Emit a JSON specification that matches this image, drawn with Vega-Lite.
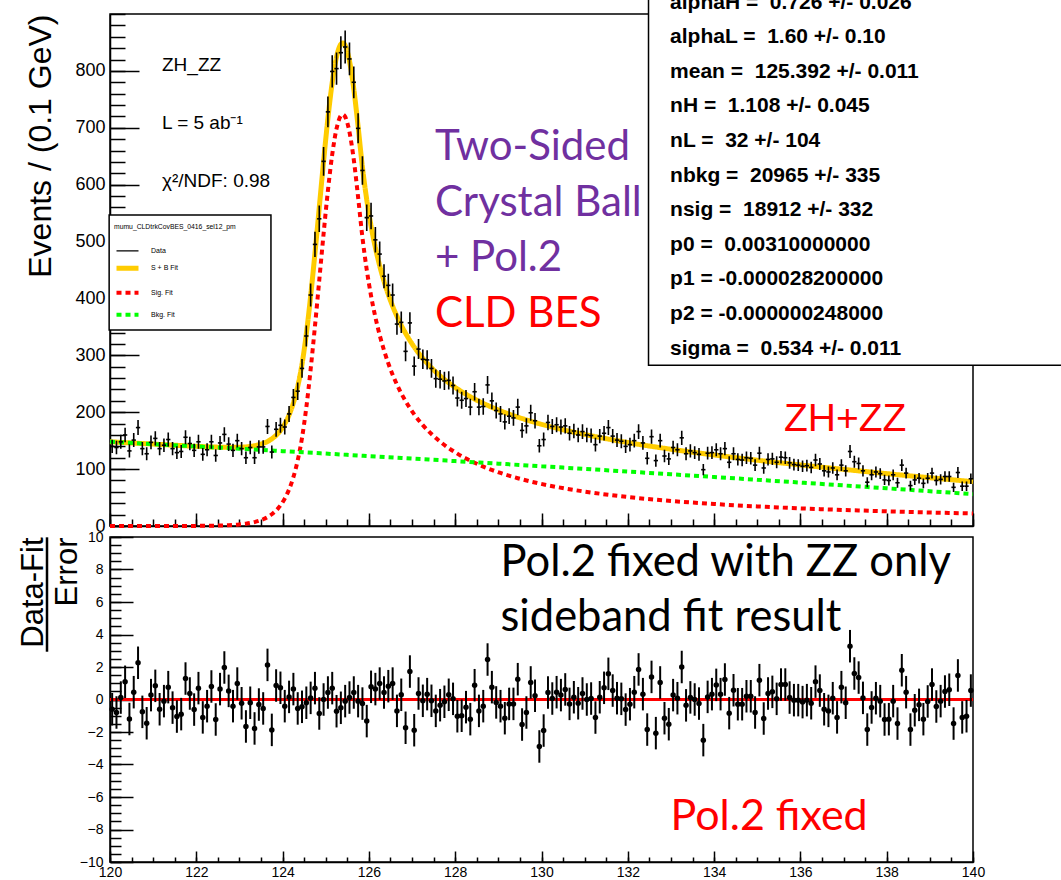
{
  "$schema": "https://vega.github.io/schema/vega-lite/v6.json",
  "autosize": {"type": "none"},
  "padding": {"left": 110, "top": 14, "right": 951, "bottom": 866},
  "background": "white",
  "bounds": "flush",
  "spacing": 11,
  "datasets": {
    "bins": [
      {"m":120.05,"n":140,"e":11.8,"pull":-0.6},{"m":120.15,"n":138,"e":11.7,"pull":-0.8},{"m":120.25,"n":148,"e":12.2,"pull":0.12},{"m":120.35,"n":160,"e":12.6,"pull":1.09},{"m":120.45,"n":132,"e":11.5,"pull":-1.2},
      {"m":120.55,"n":151,"e":12.3,"pull":0.45},{"m":120.65,"n":173,"e":13.2,"pull":2.26},{"m":120.75,"n":136,"e":11.7,"pull":-0.76},{"m":120.85,"n":127,"e":11.3,"pull":-1.46},{"m":120.95,"n":147,"e":12.1,"pull":0.27},
      {"m":121.05,"n":154,"e":12.4,"pull":0.84},{"m":121.15,"n":136,"e":11.7,"pull":-0.6},{"m":121.25,"n":142,"e":11.9,"pull":-0.1},{"m":121.35,"n":152,"e":12.3,"pull":0.76},{"m":121.45,"n":136,"e":11.7,"pull":-0.5},
      {"m":121.55,"n":129,"e":11.4,"pull":-1.05},{"m":121.65,"n":131,"e":11.4,"pull":-0.9},{"m":121.75,"n":156,"e":12.5,"pull":1.29},{"m":121.85,"n":145,"e":12.0,"pull":0.37},{"m":121.95,"n":133,"e":11.5,"pull":-0.62},
      {"m":122.05,"n":148,"e":12.2,"pull":0.7},{"m":122.15,"n":126,"e":11.2,"pull":-1.1},{"m":122.25,"n":134,"e":11.6,"pull":-0.41},{"m":122.35,"n":148,"e":12.2,"pull":0.8},{"m":122.45,"n":124,"e":11.1,"pull":-1.23},
      {"m":122.55,"n":146,"e":12.1,"pull":0.64},{"m":122.65,"n":161,"e":12.7,"pull":1.97},{"m":122.75,"n":144,"e":12.0,"pull":0.53},{"m":122.85,"n":133,"e":11.5,"pull":-0.41},{"m":122.95,"n":150,"e":12.2,"pull":0.98},
      {"m":123.05,"n":136,"e":11.7,"pull":-0.23},{"m":123.15,"n":120,"e":11.0,"pull":-1.66},{"m":123.25,"n":138,"e":11.7,"pull":-0.2},{"m":123.35,"n":120,"e":11.0,"pull":-1.78},{"m":123.45,"n":139,"e":11.8,"pull":-0.31},
      {"m":123.55,"n":139,"e":11.8,"pull":-0.55},{"m":123.65,"n":175,"e":13.2,"pull":2.13},{"m":123.75,"n":130,"e":11.4,"pull":-1.87},{"m":123.85,"n":170,"e":13.0,"pull":0.86},{"m":123.95,"n":177,"e":13.3,"pull":0.72},
      {"m":124.05,"n":174,"e":13.2,"pull":-0.41},{"m":124.15,"n":197,"e":14.0,"pull":0.16},{"m":124.25,"n":226,"e":15.0,"pull":0.64},{"m":124.35,"n":237,"e":15.4,"pull":-0.55},{"m":124.45,"n":277,"e":16.6,"pull":-0.45},
      {"m":124.55,"n":334,"e":18.3,"pull":-0.2},{"m":124.65,"n":406,"e":20.1,"pull":0.1},{"m":124.75,"n":495,"e":22.2,"pull":0.7},{"m":124.85,"n":540,"e":23.2,"pull":-0.86},{"m":124.95,"n":641,"e":25.3,"pull":0.0},
      {"m":125.05,"n":728,"e":27.0,"pull":0.43},{"m":125.15,"n":799,"e":28.3,"pull":0.7},{"m":125.25,"n":804,"e":28.4,"pull":-0.72},{"m":125.35,"n":832,"e":28.8,"pull":-0.51},{"m":125.45,"n":842,"e":29.0,"pull":-0.1},
      {"m":125.55,"n":821,"e":28.7,"pull":0.12},{"m":125.65,"n":780,"e":27.9,"pull":0.43},{"m":125.75,"n":699,"e":26.4,"pull":-0.1},{"m":125.85,"n":625,"e":25.0,"pull":-0.25},{"m":125.95,"n":542,"e":23.3,"pull":-1.33},
      {"m":126.05,"n":545,"e":23.3,"pull":0.78},{"m":126.15,"n":503,"e":22.4,"pull":0.64},{"m":126.25,"n":478,"e":21.9,"pull":0.98},{"m":126.35,"n":439,"e":21.0,"pull":0.43},{"m":126.45,"n":423,"e":20.6,"pull":0.82},
      {"m":126.55,"n":406,"e":20.1,"pull":0.98},{"m":126.65,"n":355,"e":18.8,"pull":-0.7},{"m":126.75,"n":358,"e":18.9,"pull":0.29},{"m":126.85,"n":307,"e":17.5,"pull":-1.74},{"m":126.95,"n":357,"e":18.9,"pull":1.72},
      {"m":127.05,"n":281,"e":16.8,"pull":-1.89},{"m":127.15,"n":311,"e":17.6,"pull":0.37},{"m":127.25,"n":293,"e":17.1,"pull":-0.08},{"m":127.35,"n":292,"e":17.1,"pull":0.33},{"m":127.45,"n":277,"e":16.6,"pull":-0.08},
      {"m":127.55,"n":259,"e":16.1,"pull":-0.7},{"m":127.65,"n":258,"e":16.1,"pull":-0.35},{"m":127.75,"n":255,"e":16.0,"pull":-0.14},{"m":127.85,"n":256,"e":16.0,"pull":0.29},{"m":127.95,"n":247,"e":15.7,"pull":0.04},
      {"m":128.05,"n":225,"e":15.0,"pull":-1.03},{"m":128.15,"n":221,"e":14.9,"pull":-1.0},{"m":128.25,"n":224,"e":15.0,"pull":-0.47},{"m":128.35,"n":209,"e":14.5,"pull":-1.21},{"m":128.45,"n":236,"e":15.4,"pull":0.88},
      {"m":128.55,"n":209,"e":14.5,"pull":-0.7},{"m":128.65,"n":210,"e":14.5,"pull":-0.41},{"m":128.75,"n":248,"e":15.7,"pull":2.46},{"m":128.85,"n":220,"e":14.8,"pull":0.76},{"m":128.95,"n":203,"e":14.2,"pull":-0.18},
      {"m":129.05,"n":197,"e":14.0,"pull":-0.41},{"m":129.15,"n":183,"e":13.5,"pull":-1.15},{"m":129.25,"n":193,"e":13.9,"pull":-0.27},{"m":129.35,"n":190,"e":13.8,"pull":-0.27},{"m":129.45,"n":209,"e":14.5,"pull":1.25},
      {"m":129.55,"n":168,"e":13.0,"pull":-1.54},{"m":129.65,"n":176,"e":13.3,"pull":-0.8},{"m":129.75,"n":199,"e":14.1,"pull":1.05},{"m":129.85,"n":185,"e":13.6,"pull":0.23},{"m":129.95,"n":141,"e":11.9,"pull":-2.89},
      {"m":130.05,"n":152,"e":12.3,"pull":-1.91},{"m":130.15,"n":182,"e":13.5,"pull":0.43},{"m":130.25,"n":175,"e":13.2,"pull":0.06},{"m":130.35,"n":178,"e":13.3,"pull":0.45},{"m":130.45,"n":174,"e":13.2,"pull":0.27},
      {"m":130.55,"n":176,"e":13.3,"pull":0.62},{"m":130.65,"n":163,"e":12.8,"pull":-0.27},{"m":130.75,"n":167,"e":12.9,"pull":0.14},{"m":130.85,"n":160,"e":12.6,"pull":-0.23},{"m":130.95,"n":166,"e":12.9,"pull":0.37},
      {"m":131.05,"n":160,"e":12.6,"pull":0.0},{"m":131.15,"n":159,"e":12.6,"pull":0.06},{"m":131.25,"n":143,"e":12.0,"pull":-1.11},{"m":131.35,"n":158,"e":12.6,"pull":0.14},{"m":131.45,"n":163,"e":12.8,"pull":0.72},
      {"m":131.55,"n":173,"e":13.2,"pull":1.58},{"m":131.65,"n":158,"e":12.6,"pull":0.55},{"m":131.75,"n":151,"e":12.3,"pull":0.08},{"m":131.85,"n":149,"e":12.2,"pull":0.04},{"m":131.95,"n":140,"e":11.8,"pull":-0.62},
      {"m":132.05,"n":143,"e":12.0,"pull":-0.29},{"m":132.15,"n":150,"e":12.2,"pull":0.45},{"m":132.25,"n":166,"e":12.9,"pull":1.85},{"m":132.35,"n":146,"e":12.1,"pull":0.33},{"m":132.45,"n":119,"e":10.9,"pull":-1.85},
      {"m":132.55,"n":157,"e":12.5,"pull":1.39},{"m":132.65,"n":115,"e":10.7,"pull":-2.07},{"m":132.75,"n":150,"e":12.2,"pull":1.05},{"m":132.85,"n":123,"e":11.1,"pull":-1.15},{"m":132.95,"n":118,"e":10.9,"pull":-1.52},
      {"m":133.05,"n":138,"e":11.7,"pull":0.27},{"m":133.15,"n":134,"e":11.6,"pull":0.08},{"m":133.25,"n":155,"e":12.4,"pull":2.0},{"m":133.35,"n":127,"e":11.3,"pull":-0.36},{"m":133.45,"n":132,"e":11.5,"pull":0.13},
      {"m":133.55,"n":129,"e":11.4,"pull":0.0},{"m":133.65,"n":126,"e":11.2,"pull":-0.25},{"m":133.75,"n":99,"e":9.9,"pull":-2.5},{"m":133.85,"n":128,"e":11.3,"pull":0.16},{"m":133.95,"n":129,"e":11.4,"pull":0.33},
      {"m":134.05,"n":134,"e":11.6,"pull":0.9},{"m":134.15,"n":127,"e":11.3,"pull":0.33},{"m":134.25,"n":136,"e":11.7,"pull":1.23},{"m":134.35,"n":112,"e":10.6,"pull":-0.84},{"m":134.45,"n":127,"e":11.3,"pull":0.57},
      {"m":134.55,"n":117,"e":10.8,"pull":-0.29},{"m":134.65,"n":116,"e":10.8,"pull":-0.29},{"m":134.75,"n":120,"e":11.0,"pull":0.2},{"m":134.85,"n":119,"e":10.9,"pull":0.2},{"m":134.95,"n":107,"e":10.3,"pull":-0.8},
      {"m":135.05,"n":128,"e":11.3,"pull":1.19},{"m":135.15,"n":102,"e":10.1,"pull":-1.17},{"m":135.25,"n":117,"e":10.8,"pull":0.37},{"m":135.35,"n":118,"e":10.9,"pull":0.47},{"m":135.45,"n":112,"e":10.6,"pull":0.04},
      {"m":135.55,"n":121,"e":11.0,"pull":0.92},{"m":135.65,"n":120,"e":11.0,"pull":0.92},{"m":135.75,"n":111,"e":10.5,"pull":0.12},{"m":135.85,"n":108,"e":10.4,"pull":-0.04},{"m":135.95,"n":107,"e":10.3,"pull":-0.04},
      {"m":136.05,"n":105,"e":10.2,"pull":-0.16},{"m":136.15,"n":106,"e":10.3,"pull":-0.04},{"m":136.25,"n":103,"e":10.1,"pull":-0.23},{"m":136.35,"n":116,"e":10.8,"pull":1.1},{"m":136.45,"n":109,"e":10.4,"pull":0.55},
      {"m":136.55,"n":97,"e":9.8,"pull":-0.6},{"m":136.65,"n":95,"e":9.7,"pull":-0.7},{"m":136.75,"n":102,"e":10.1,"pull":0.08},{"m":136.85,"n":90,"e":9.5,"pull":-1.1},{"m":136.95,"n":107,"e":10.3,"pull":0.76},
      {"m":137.05,"n":97,"e":9.8,"pull":-0.2},{"m":137.15,"n":131,"e":11.4,"pull":3.28},{"m":137.25,"n":113,"e":10.6,"pull":1.6},{"m":137.35,"n":110,"e":10.5,"pull":1.35},{"m":137.45,"n":97,"e":9.8,"pull":0.1},
      {"m":137.55,"n":77,"e":8.8,"pull":-1.85},{"m":137.65,"n":90,"e":9.5,"pull":-0.49},{"m":137.75,"n":95,"e":9.7,"pull":0.08},{"m":137.85,"n":92,"e":9.6,"pull":-0.1},{"m":137.95,"n":81,"e":9.0,"pull":-1.23},
      {"m":138.05,"n":80,"e":8.9,"pull":-1.21},{"m":138.15,"n":90,"e":9.5,"pull":-0.1},{"m":138.25,"n":76,"e":8.7,"pull":-1.48},{"m":138.35,"n":107,"e":10.3,"pull":1.8},{"m":138.45,"n":93,"e":9.6,"pull":0.45},
      {"m":138.55,"n":71,"e":8.4,"pull":-1.85},{"m":138.65,"n":81,"e":9.0,"pull":-0.66},{"m":138.75,"n":84,"e":9.2,"pull":-0.33},{"m":138.85,"n":75,"e":8.7,"pull":-1.21},{"m":138.95,"n":84,"e":9.2,"pull":-0.12},
      {"m":139.05,"n":93,"e":9.6,"pull":0.92},{"m":139.15,"n":80,"e":8.9,"pull":-0.43},{"m":139.25,"n":82,"e":9.1,"pull":-0.1},{"m":139.35,"n":87,"e":9.3,"pull":0.49},{"m":139.45,"n":87,"e":9.3,"pull":0.6},
      {"m":139.55,"n":68,"e":8.2,"pull":-1.48},{"m":139.65,"n":94,"e":9.7,"pull":1.48},{"m":139.75,"n":70,"e":8.4,"pull":-1.1},{"m":139.85,"n":70,"e":8.4,"pull":-1.03},{"m":139.95,"n":83,"e":9.1,"pull":0.55}
    ],
    "curves": [
      {"series":"S + B Fit","m":120.0,"events":148.0},{"series":"S + B Fit","m":121.0,"events":144.0},{"series":"S + B Fit","m":121.5,"events":142.0},{"series":"S + B Fit","m":122.05,"events":139.9},
      {"series":"S + B Fit","m":122.55,"events":138.5},{"series":"S + B Fit","m":122.75,"events":138.2},{"series":"S + B Fit","m":122.95,"events":138.3},{"series":"S + B Fit","m":123.15,"events":139.1},
      {"series":"S + B Fit","m":123.25,"events":140.0},{"series":"S + B Fit","m":123.35,"events":141.2},{"series":"S + B Fit","m":123.45,"events":142.9},{"series":"S + B Fit","m":123.55,"events":145.3},
      {"series":"S + B Fit","m":123.65,"events":148.6},{"series":"S + B Fit","m":123.75,"events":153.2},{"series":"S + B Fit","m":123.85,"events":159.5},{"series":"S + B Fit","m":123.95,"events":167.9},
      {"series":"S + B Fit","m":124.05,"events":179.5},{"series":"S + B Fit","m":124.15,"events":195.2},{"series":"S + B Fit","m":124.25,"events":216.4},{"series":"S + B Fit","m":124.35,"events":245.2},
      {"series":"S + B Fit","m":124.45,"events":284.5},{"series":"S + B Fit","m":124.55,"events":337.9},{"series":"S + B Fit","m":124.65,"events":404.3},{"series":"S + B Fit","m":124.75,"events":479.5},
      {"series":"S + B Fit","m":124.85,"events":560.2},{"series":"S + B Fit","m":124.95,"events":641.2},{"series":"S + B Fit","m":125.05,"events":716.4},{"series":"S + B Fit","m":125.15,"events":779.5},
      {"series":"S + B Fit","m":125.25,"events":824.6},{"series":"S + B Fit","m":125.35,"events":847.0},{"series":"S + B Fit","m":125.39,"events":849.1},{"series":"S + B Fit","m":125.45,"events":844.6},
      {"series":"S + B Fit","m":125.55,"events":817.4},{"series":"S + B Fit","m":125.65,"events":768.2},{"series":"S + B Fit","m":125.75,"events":701.9},{"series":"S + B Fit","m":125.85,"events":630.9},
      {"series":"S + B Fit","m":125.95,"events":573.6},{"series":"S + B Fit","m":126.05,"events":527.4},{"series":"S + B Fit","m":126.15,"events":489.4},{"series":"S + B Fit","m":126.25,"events":457.4},
      {"series":"S + B Fit","m":126.35,"events":430.3},{"series":"S + B Fit","m":126.45,"events":406.9},{"series":"S + B Fit","m":126.55,"events":386.5},{"series":"S + B Fit","m":126.65,"events":368.7},
      {"series":"S + B Fit","m":126.75,"events":352.8},{"series":"S + B Fit","m":126.85,"events":338.8},{"series":"S + B Fit","m":126.95,"events":326.1},{"series":"S + B Fit","m":127.05,"events":314.6},
      {"series":"S + B Fit","m":127.25,"events":294.8},{"series":"S + B Fit","m":127.45,"events":278.1},{"series":"S + B Fit","m":127.65,"events":263.9},{"series":"S + B Fit","m":127.85,"events":251.8},
      {"series":"S + B Fit","m":128.05,"events":241.1},{"series":"S + B Fit","m":128.25,"events":231.6},{"series":"S + B Fit","m":128.45,"events":223.2},{"series":"S + B Fit","m":128.75,"events":212.1},
      {"series":"S + B Fit","m":129.05,"events":202.5},{"series":"S + B Fit","m":129.45,"events":191.5},{"series":"S + B Fit","m":129.95,"events":179.9},{"series":"S + B Fit","m":130.55,"events":168.4},
      {"series":"S + B Fit","m":131.05,"events":160.2},{"series":"S + B Fit","m":132.05,"events":146.1},{"series":"S + B Fit","m":133.05,"events":134.4},{"series":"S + B Fit","m":134.05,"events":124.4},
      {"series":"S + B Fit","m":135.05,"events":115.2},{"series":"S + B Fit","m":136.05,"events":106.9},{"series":"S + B Fit","m":137.05,"events":99.2},{"series":"S + B Fit","m":138.05,"events":91.7},
      {"series":"S + B Fit","m":139.05,"events":84.5},{"series":"S + B Fit","m":140.0,"events":78.0},

      {"series":"Sig. Fit","m":120.0,"events":0.0},{"series":"Sig. Fit","m":121.0,"events":0.02},{"series":"Sig. Fit","m":121.5,"events":0.07},{"series":"Sig. Fit","m":122.05,"events":0.25},
      {"series":"Sig. Fit","m":122.55,"events":0.85},{"series":"Sig. Fit","m":122.75,"events":1.42},{"series":"Sig. Fit","m":122.95,"events":2.39},{"series":"Sig. Fit","m":123.15,"events":4.04},
      {"series":"Sig. Fit","m":123.25,"events":5.27},{"series":"Sig. Fit","m":123.35,"events":6.89},{"series":"Sig. Fit","m":123.45,"events":9.04},{"series":"Sig. Fit","m":123.55,"events":11.87},
      {"series":"Sig. Fit","m":123.65,"events":15.63},{"series":"Sig. Fit","m":123.75,"events":20.6},{"series":"Sig. Fit","m":123.85,"events":27.3},{"series":"Sig. Fit","m":123.95,"events":36.2},
      {"series":"Sig. Fit","m":124.05,"events":48.2},{"series":"Sig. Fit","m":124.15,"events":64.3},{"series":"Sig. Fit","m":124.25,"events":85.9},{"series":"Sig. Fit","m":124.35,"events":115.2},
      {"series":"Sig. Fit","m":124.45,"events":154.9},{"series":"Sig. Fit","m":124.55,"events":208.7},{"series":"Sig. Fit","m":124.65,"events":275.5},{"series":"Sig. Fit","m":124.75,"events":351.2},
      {"series":"Sig. Fit","m":124.85,"events":432.3},{"series":"Sig. Fit","m":124.95,"events":513.7},{"series":"Sig. Fit","m":125.05,"events":589.4},{"series":"Sig. Fit","m":125.15,"events":652.9},
      {"series":"Sig. Fit","m":125.25,"events":698.4},{"series":"Sig. Fit","m":125.35,"events":721.3},{"series":"Sig. Fit","m":125.39,"events":723.5},{"series":"Sig. Fit","m":125.45,"events":719.3},
      {"series":"Sig. Fit","m":125.55,"events":692.5},{"series":"Sig. Fit","m":125.65,"events":643.8},{"series":"Sig. Fit","m":125.75,"events":577.9},{"series":"Sig. Fit","m":125.85,"events":507.3},
      {"series":"Sig. Fit","m":125.95,"events":450.5},{"series":"Sig. Fit","m":126.05,"events":404.7},{"series":"Sig. Fit","m":126.15,"events":367.1},{"series":"Sig. Fit","m":126.25,"events":335.6},
      {"series":"Sig. Fit","m":126.35,"events":308.9},{"series":"Sig. Fit","m":126.45,"events":285.9},{"series":"Sig. Fit","m":126.55,"events":266.0},{"series":"Sig. Fit","m":126.65,"events":248.6},
      {"series":"Sig. Fit","m":126.75,"events":233.2},{"series":"Sig. Fit","m":126.85,"events":219.6},{"series":"Sig. Fit","m":126.95,"events":207.3},{"series":"Sig. Fit","m":127.05,"events":196.3},
      {"series":"Sig. Fit","m":127.25,"events":177.4},{"series":"Sig. Fit","m":127.45,"events":161.6},{"series":"Sig. Fit","m":127.65,"events":148.3},{"series":"Sig. Fit","m":127.85,"events":137.0},
      {"series":"Sig. Fit","m":128.05,"events":127.2},{"series":"Sig. Fit","m":128.25,"events":118.6},{"series":"Sig. Fit","m":128.45,"events":111.1},{"series":"Sig. Fit","m":128.75,"events":101.4},
      {"series":"Sig. Fit","m":129.05,"events":93.2},{"series":"Sig. Fit","m":129.45,"events":84.0},{"series":"Sig. Fit","m":129.95,"events":74.7},{"series":"Sig. Fit","m":130.55,"events":65.9},
      {"series":"Sig. Fit","m":131.0,"events":60.5},{"series":"Sig. Fit","m":132.0,"events":51.0},{"series":"Sig. Fit","m":133.0,"events":44.0},{"series":"Sig. Fit","m":134.0,"events":38.7},
      {"series":"Sig. Fit","m":135.0,"events":34.4},{"series":"Sig. Fit","m":136.0,"events":31.0},{"series":"Sig. Fit","m":137.0,"events":28.2},{"series":"Sig. Fit","m":138.0,"events":25.8},
      {"series":"Sig. Fit","m":139.0,"events":23.7},{"series":"Sig. Fit","m":140.0,"events":22.0},

      {"series":"Bkg. Fit","m":120,"events":148.0},{"series":"Bkg. Fit","m":121,"events":143.97},{"series":"Bkg. Fit","m":122,"events":139.88},{"series":"Bkg. Fit","m":123,"events":135.73},
      {"series":"Bkg. Fit","m":124,"events":131.52},{"series":"Bkg. Fit","m":125,"events":127.25},{"series":"Bkg. Fit","m":126,"events":122.92},{"series":"Bkg. Fit","m":127,"events":118.53},
      {"series":"Bkg. Fit","m":128,"events":114.08},{"series":"Bkg. Fit","m":129,"events":109.57},{"series":"Bkg. Fit","m":130,"events":105.0},{"series":"Bkg. Fit","m":131,"events":100.37},
      {"series":"Bkg. Fit","m":132,"events":95.68},{"series":"Bkg. Fit","m":133,"events":90.93},{"series":"Bkg. Fit","m":134,"events":86.12},{"series":"Bkg. Fit","m":135,"events":81.25},
      {"series":"Bkg. Fit","m":136,"events":76.32},{"series":"Bkg. Fit","m":137,"events":71.33},{"series":"Bkg. Fit","m":138,"events":66.28},{"series":"Bkg. Fit","m":139,"events":61.17},
      {"series":"Bkg. Fit","m":140,"events":56.0}
    ]
  },
  "config": {
    "font": "Liberation Sans",
    "view": {"stroke": "black", "strokeWidth": 1.5},
    "axis": {
      "domainColor": "black", "domainWidth": 1.5, "tickColor": "black", "tickWidth": 1.5,
      "labelColor": "black", "titleColor": "black", "grid": false,
      "labelFont": "Liberation Sans", "titleFont": "Liberation Sans", "titleFontWeight": "normal",
      "labelOverlap": false, "labelFlush": false, "labelBound": false, "format": "d"
    }
  },
  "vconcat": [
    {
      "width": 863,
      "height": 512,
      "resolve": {"axis": {"x": "independent", "y": "independent"}},
      "encoding": {
        "color": {
          "field": "series", "type": "nominal",
          "scale": {"domain": ["Data", "S + B Fit", "Sig. Fit", "Bkg. Fit"], "range": ["black", "#ffcc00", "#ff0000", "#00ff00"]},
          "legend": {
            "title": "mumu_CLDtrkCovBES_0416_sel12_pm",
            "orient": "none", "legendX": 4, "legendY": 210, "padding": 0,
            "titleFontSize": 6.8, "titleFontWeight": "normal", "titleFont": "Liberation Sans", "titleColor": "black", "titlePadding": 8,
            "labelFontSize": 7, "labelFont": "Liberation Sans", "labelColor": "black", "labelOffset": 10,
            "symbolType": "stroke", "symbolSize": 484, "rowPadding": 1
          }
        },
        "strokeDash": {
          "field": "series", "type": "nominal",
          "scale": {"domain": ["Data", "S + B Fit", "Sig. Fit", "Bkg. Fit"], "range": [[1, 0], [1, 0], [5, 4], [5, 4]]},
          "legend": {
            "title": "mumu_CLDtrkCovBES_0416_sel12_pm",
            "orient": "none", "legendX": 4, "legendY": 210, "padding": 0,
            "titleFontSize": 6.8, "titleFontWeight": "normal", "titleFont": "Liberation Sans", "titleColor": "black", "titlePadding": 8,
            "labelFontSize": 7, "labelFont": "Liberation Sans", "labelColor": "black", "labelOffset": 10,
            "symbolType": "stroke", "symbolSize": 484, "rowPadding": 1
          }
        }
      },
      "layer": [
        {
          "data": {"name": "curves"},
          "transform": [{"filter": "datum.series === 'S + B Fit'"}],
          "mark": {"type": "line", "interpolate": "monotone"},
          "encoding": {
            "x": {
              "field": "m", "type": "quantitative",
              "scale": {"domain": [120, 140], "nice": false, "zero": false},
              "axis": {
                "orient": "bottom", "title": null, "labels": false,
                "values": [120, 122, 124, 126, 128, 130, 132, 134, 136, 138, 140],
                "tickSize": -13, "labelPadding": 16
              }
            },
            "y": {
              "field": "events", "type": "quantitative",
              "scale": {"domain": [0, 900], "nice": false},
              "axis": {
                "orient": "left",
                "title": "Events / (0.1 GeV)", "titleFontSize": 32, "titleAnchor": "end", "titlePadding": 17,
                "values": [0, 100, 200, 300, 400, 500, 600, 700, 800],
                "labelFontSize": 18, "tickSize": -29, "labelPadding": 34
              }
            },
            "strokeWidth": {
              "field": "series", "type": "nominal",
              "scale": {"type": "ordinal", "domain": ["Data", "S + B Fit", "Sig. Fit", "Bkg. Fit"], "range": [1.2, 5, 4, 4]},
              "legend": {
                "title": "mumu_CLDtrkCovBES_0416_sel12_pm",
                "orient": "none", "legendX": 4, "legendY": 210, "padding": 0,
                "titleFontSize": 6.8, "titleFontWeight": "normal", "titleFont": "Liberation Sans", "titleColor": "black", "titlePadding": 8,
                "labelFontSize": 7, "labelFont": "Liberation Sans", "labelColor": "black", "labelOffset": 10,
                "symbolType": "stroke", "symbolSize": 484, "rowPadding": 1
              }
            }
          }
        },
        {
          "data": {"name": "curves"},
          "transform": [{"filter": "datum.series !== 'S + B Fit'"}],
          "mark": {"type": "line", "interpolate": "monotone"},
          "encoding": {
            "x": {
              "field": "m", "type": "quantitative",
              "axis": {"orient": "bottom", "title": null, "labels": false, "domain": false, "tickCount": 40, "tickSize": -7}
            },
            "y": {
              "field": "events", "type": "quantitative",
              "axis": {"orient": "left", "title": null, "labels": false, "domain": false, "tickCount": 45, "tickSize": -15}
            },
            "strokeWidth": {
              "field": "series", "type": "nominal",
              "scale": {"type": "ordinal", "domain": ["Data", "S + B Fit", "Sig. Fit", "Bkg. Fit"], "range": [1.2, 5, 4, 4]},
              "legend": {
                "title": "mumu_CLDtrkCovBES_0416_sel12_pm",
                "orient": "none", "legendX": 4, "legendY": 210, "padding": 0,
                "titleFontSize": 6.8, "titleFontWeight": "normal", "titleFont": "Liberation Sans", "titleColor": "black", "titlePadding": 8,
                "labelFontSize": 7, "labelFont": "Liberation Sans", "labelColor": "black", "labelOffset": 10,
                "symbolType": "stroke", "symbolSize": 484, "rowPadding": 1
              }
            }
          }
        },
        {
          "data": {"name": "bins"},
          "mark": {"type": "errorbar", "color": "black", "thickness": 1.6},
          "encoding": {
            "x": {"field": "m", "type": "quantitative", "axis": null},
            "y": {"field": "n", "type": "quantitative", "axis": null},
            "yError": {"field": "e"},
            "color": {"value": "black"},
            "strokeDash": {"value": [1, 0]}
          }
        },
        {
          "data": {"name": "bins"},
          "mark": {"type": "tick", "orient": "horizontal", "color": "black", "size": 4.3, "thickness": 1.6, "opacity": 1},
          "encoding": {
            "x": {"field": "m", "type": "quantitative", "axis": null},
            "y": {"field": "n", "type": "quantitative", "axis": null},
            "color": {"value": "black"},
            "strokeDash": {"value": [1, 0]}
          }
        },
        {
          "data": {"values": [{}]},
          "mark": {"type": "rect", "fill": "white", "stroke": "black", "strokeWidth": 1.5},
          "encoding": {
            "x": {"datum": 119.98, "axis": null}, "x2": {"datum": 123.73},
            "y": {"datum": 546.7, "axis": null}, "y2": {"datum": 344.5},
            "color": {"value": "white"}, "strokeDash": {"value": [1, 0]}
          }
        },
        {
          "data": {"values": [{}]},
          "mark": {"type": "rect", "fill": "white", "stroke": "black", "strokeWidth": 1.5},
          "encoding": {
            "x": {"datum": 132.48, "axis": null}, "x2": {"datum": 142.6},
            "y": {"datum": 282.5, "axis": null}, "y2": {"datum": 960},
            "color": {"value": "white"}, "strokeDash": {"value": [1, 0]}
          }
        },
        {
          "data": {"values": [{}]},
          "mark": {
            "type": "text", "align": "left", "baseline": "alphabetic",
            "font": "Liberation Sans", "fontSize": 21, "fontWeight": "bold", "lineHeight": 34.6,
            "text": [
              "alphaH = \u00a00.726 +/- 0.026",
              "alphaL = \u00a01.60 +/- 0.10",
              "mean = \u00a0125.392 +/- 0.011",
              "nH = \u00a01.108 +/- 0.045",
              "nL = \u00a032 +/- 104",
              "nbkg = \u00a020965 +/- 335",
              "nsig = \u00a018912 +/- 332",
              "p0 = \u00a00.00310000000",
              "p1 = -0.000028200000",
              "p2 = -0.000000248000",
              "sigma = \u00a00.534 +/- 0.011"
            ]
          },
          "encoding": {"x": {"datum": 132.98, "axis": null}, "y": {"datum": 909.5, "axis": null}, "color": {"value": "black"}, "strokeDash": {"value": [1, 0]}}
        },
        {
          "data": {"values": [{}]},
          "mark": {
            "type": "text", "align": "left", "baseline": "alphabetic",
            "font": "Liberation Sans", "fontSize": 19, "lineHeight": 58,
            "text": ["ZH_ZZ", "L = 5 ab\u207b\u00b9", "\u03c7\u00b2/NDF: 0.98"]
          },
          "encoding": {"x": {"datum": 121.205, "axis": null}, "y": {"datum": 800.3, "axis": null}, "color": {"value": "black"}, "strokeDash": {"value": [1, 0]}}
        },
        {
          "data": {"values": [{}]},
          "mark": {
            "type": "text", "align": "left", "baseline": "alphabetic",
            "font": "Lato", "fontSize": 42, "lineHeight": 55.5,
            "text": ["Two-Sided", "Crystal Ball", "+ Pol.2"]
          },
          "encoding": {"x": {"datum": 127.53, "axis": null}, "y": {"datum": 643.3, "axis": null}, "color": {"value": "#7030a0"}, "strokeDash": {"value": [1, 0]}}
        },
        {
          "data": {"values": [{}]},
          "mark": {
            "type": "text", "align": "left", "baseline": "alphabetic",
            "font": "Lato", "fontSize": 42, "text": "CLD BES"
          },
          "encoding": {"x": {"datum": 127.53, "axis": null}, "y": {"datum": 350.3, "axis": null}, "color": {"value": "#ff0000"}, "strokeDash": {"value": [1, 0]}}
        },
        {
          "data": {"values": [{}]},
          "mark": {
            "type": "text", "align": "left", "baseline": "alphabetic",
            "font": "Liberation Sans", "fontSize": 39, "text": "ZH+ZZ"
          },
          "encoding": {"x": {"datum": 135.62, "axis": null}, "y": {"datum": 167.5, "axis": null}, "color": {"value": "#ff0000"}, "strokeDash": {"value": [1, 0]}}
        }
      ]
    },
    {
      "width": 863,
      "height": 325,
      "resolve": {"axis": {"x": "independent", "y": "independent"}},
      "layer": [
        {
          "data": {"values": [{}]},
          "mark": {"type": "rule", "color": "#ff0000", "strokeWidth": 3.2},
          "encoding": {"y": {"datum": 0, "axis": null}}
        },
        {
          "data": {"name": "bins"},
          "mark": {"type": "tick", "orient": "vertical", "color": "black", "size": 32.5, "thickness": 2, "opacity": 1},
          "encoding": {
            "x": {
              "field": "m", "type": "quantitative",
              "scale": {"domain": [120, 140], "nice": false, "zero": false},
              "axis": {
                "orient": "bottom", "title": null,
                "values": [120, 122, 124, 126, 128, 130, 132, 134, 136, 138, 140],
                "labelFontSize": 14, "tickSize": -11, "labelPadding": 14
              }
            },
            "y": {
              "field": "pull", "type": "quantitative",
              "scale": {"domain": [-10, 10], "nice": false},
              "axis": {
                "orient": "left",
                "title": ["Data-Fit", "Error\u00a0\u00a0"], "titleFontSize": 31, "titleLineHeight": 34,
                "titleAnchor": "end", "titlePadding": -4,
                "values": [-10, -8, -6, -4, -2, 0, 2, 4, 6, 8, 10],
                "labelFontSize": 14, "tickSize": -23, "labelPadding": 30
              }
            }
          }
        },
        {
          "data": {"name": "bins"},
          "mark": {"type": "point", "filled": true, "color": "black", "opacity": 1, "size": 30},
          "encoding": {
            "x": {
              "field": "m", "type": "quantitative",
              "axis": {"orient": "bottom", "title": null, "labels": false, "domain": false, "tickCount": 40, "tickSize": -5}
            },
            "y": {
              "field": "pull", "type": "quantitative",
              "axis": {"orient": "left", "title": null, "labels": false, "domain": false, "tickCount": 40, "tickSize": -11}
            }
          }
        },
        {
          "data": {"values": [{}]},
          "mark": {"type": "rule", "color": "black", "strokeWidth": 2.5},
          "encoding": {"x": {"datum": 118.54, "axis": null}, "y": {"datum": 9.98, "axis": null}, "y2": {"datum": 2.94}}
        },
        {
          "data": {"values": [{}]},
          "mark": {
            "type": "text", "align": "left", "baseline": "alphabetic",
            "font": "Lato", "fontSize": 43.5, "lineHeight": 55.4, "color": "black",
            "text": ["Pol.2 fixed with ZZ only", "sideband fit result"]
          },
          "encoding": {"x": {"datum": 129.05, "axis": null}, "y": {"datum": 7.62, "axis": null}}
        },
        {
          "data": {"values": [{}]},
          "mark": {
            "type": "text", "align": "left", "baseline": "alphabetic",
            "font": "Lato", "fontSize": 43, "color": "#ff0000", "text": "Pol.2 fixed"
          },
          "encoding": {"x": {"datum": 132.99, "axis": null}, "y": {"datum": -8.06, "axis": null}}
        }
      ]
    }
  ]
}
